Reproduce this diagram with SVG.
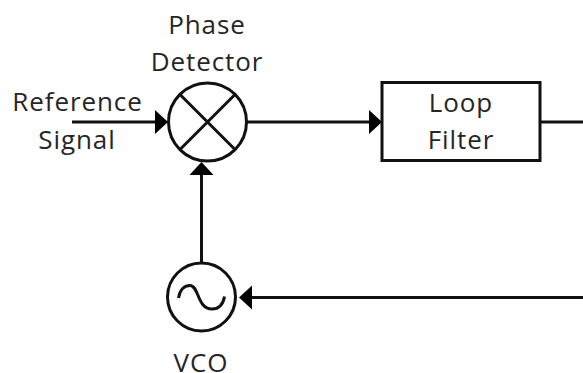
<svg xmlns="http://www.w3.org/2000/svg" width="583" height="373" viewBox="0 0 583 373">
<style>
text{font-family:"Open Sans","Noto Sans",sans-serif;font-size:26px;letter-spacing:.9px;fill:#262626;text-anchor:middle}
.s{fill:none;stroke:#111;stroke-width:3}
</style>
<defs><marker id="a" markerUnits="userSpaceOnUse" markerWidth="14" markerHeight="26" refX="3" refY="13" orient="auto"><path d="M0 1L13 13L0 25Z" fill="#000"/></marker></defs>
<rect width="583" height="373" fill="#fff"/>
<g id="connectors">
<path class="s" d="M72 122H158" marker-end="url(#a)"/>
<path class="s" d="M247 122H372" marker-end="url(#a)"/>
<path class="s" d="M201.500 263V172" marker-end="url(#a)"/>
<path class="s" d="M540 122H583"/>
<path class="s" d="M583 297.500H249" marker-end="url(#a)"/>
</g>
<g id="phase-detector">
<circle class="s" cx="207.500" cy="122" r="39"/>
<path class="s" d="M180 94.500L235 149.500M235 94.500L180 149.500"/>
<text x="207" y="34">Phase</text><text x="207" y="71">Detector</text>
</g>
<g id="reference"><text x="77.500" y="111">Reference</text><text x="77" y="149">Signal</text></g>
<g id="loop-filter"><rect class="s" x="382" y="82.500" width="158" height="78"/>
<text x="461" y="112">Loop</text><text x="461" y="149">Filter</text></g>
<g id="vco"><circle class="s" cx="201.500" cy="297" r="34"/>
<path class="s" d="M178.500 298C180 289 185 285.500 190 285.500C199 285.500 197 309 212 309C218 309 223 305 224.500 296.500"/>
<text x="201" y="372">VCO</text></g>
</svg>
